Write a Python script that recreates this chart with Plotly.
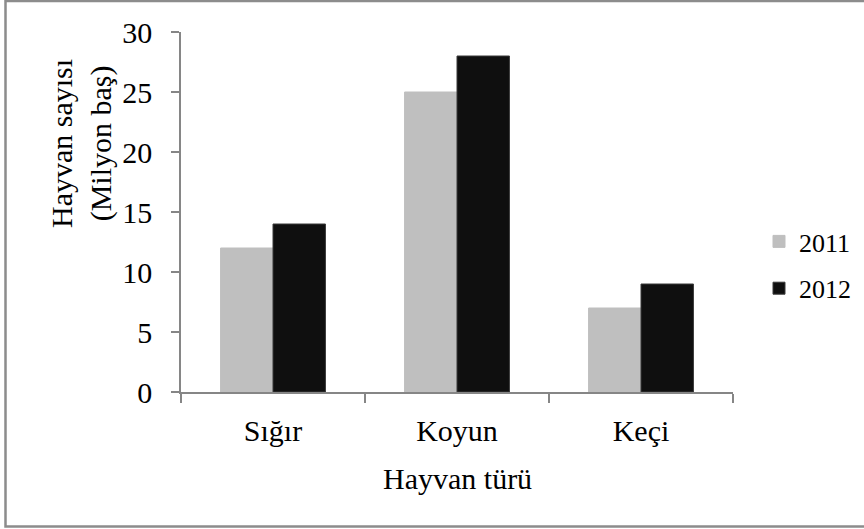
import plotly.graph_objects as go

# Livestock counts (million head) by species
categories = ["Sığır", "Koyun", "Keçi"]
years = ["2011", "2012"]
values_2011 = [12, 25, 7]
values_2012 = [14, 28, 9]
y_ticks = [0, 5, 10, 15, 20, 25, 30]

FONT = "Liberation Serif"
AXIS_GREY = "#868686"

fig = go.Figure()
fig.add_trace(go.Bar(
    name=years[0], x=categories, y=values_2011, legendgroup="a",
    marker=dict(color="#bfbfbf", line=dict(color="#bfbfbf", width=1)),
))
fig.add_trace(go.Bar(
    name=years[1], x=categories, y=values_2012, legendgroup="b",
    marker=dict(color="#0f0f0f", line=dict(color="#3a3a3a", width=1)),
))

W, H = 864, 529
L, R, T, B = 181, 131, 32, 137
pw, ph = W - L - R, H - T - B


def px_x(x):
    return (x - L) / pw


def px_y(y):
    return (H - B - y) / ph


fig.update_layout(
    width=W, height=H,
    margin=dict(l=L, r=R, t=T, b=B, autoexpand=False),
    paper_bgcolor="white", plot_bgcolor="white",
    barmode="group", bargap=0.43, bargroupgap=0,
    font=dict(family=FONT, color="#000000", size=30),
    showlegend=True,
    legend=dict(
        x=px_x(759), y=px_y(265), xanchor="left", yanchor="middle",
        font=dict(family=FONT, size=26, color="#000000"),
        tracegroupgap=10, bgcolor="rgba(0,0,0,0)",
    ),
    xaxis=dict(
        type="category", showline=True, linecolor=AXIS_GREY, linewidth=1.5,
        ticks="outside", tickson="boundaries", ticklen=9, tickcolor=AXIS_GREY,
        tickwidth=1.5, showgrid=False, zeroline=False,
        tickfont=dict(family=FONT, size=30), ticklabelstandoff=11,
    ),
    yaxis=dict(
        range=[0, 30], tickvals=y_ticks, showline=True, linecolor=AXIS_GREY,
        linewidth=1.5, ticks="outside", ticklen=8, tickcolor=AXIS_GREY,
        tickwidth=1.5, showgrid=False, zeroline=False,
        tickfont=dict(family=FONT, size=30), ticklabelstandoff=13,
    ),
    annotations=[
        dict(text="Hayvan sayısı<br>(Milyon baş)", textangle=-90,
             xref="paper", yref="paper", x=px_x(81), y=px_y(144),
             xanchor="center", yanchor="middle", showarrow=False,
             font=dict(family=FONT, size=30)),
        dict(text="Hayvan türü", xref="paper", yref="paper",
             x=0.5, y=px_y(478), xanchor="center", yanchor="middle",
             showarrow=False, font=dict(family=FONT, size=30)),
    ],
    shapes=[
        dict(type="rect", xref="paper", yref="paper",
             x0=px_x(5.5), x1=px_x(880), y0=px_y(526.5), y1=px_y(1),
             line=dict(color="#8c8c8c", width=2.5), fillcolor="rgba(0,0,0,0)",
             layer="below"),
    ],
)

fig.write_html("out.html")
